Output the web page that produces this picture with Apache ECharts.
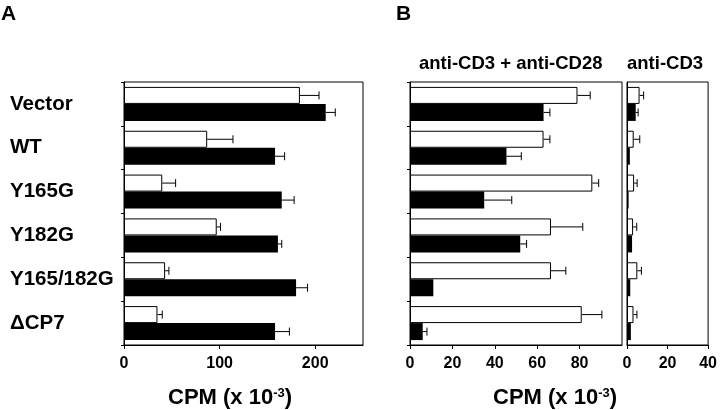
<!DOCTYPE html>
<html>
<head>
<meta charset="utf-8">
<script src="https://cdn.jsdelivr.net/npm/echarts@6/dist/echarts.min.js"></script>
<style>html,body{margin:0;padding:0;background:#fff}#c{width:720px;height:410px}</style>
</head>
<body>
<div id="c"></div>
<script>
const categories = ['Vector', 'WT', 'Y165G', 'Y182G', 'Y165/182G', 'ΔCP7'];
// Panel A
const aOpen = [184, 87, 40, 97, 43, 35];
const aOpenErr = [20, 27, 14, 4, 4, 5];
const aFilled = [211, 158, 165, 161, 180, 158];
const aFilledErr = [10, 10, 13, 4, 12, 15];
// Panel B, anti-CD3 + anti-CD28
const b1Open = [79, 63, 86, 66.5, 66.5, 81];
const b1OpenErr = [6, 3, 3, 15, 7, 9.5];
const b1Filled = [63, 45.5, 35, 52, 11, 6];
const b1FilledErr = [3, 7, 13, 3, 0, 2];
// Panel B, anti-CD3
const b2Open = [6.2, 3.3, 3.5, 3, 5.1, 3.2];
const b2OpenErr = [2, 3, 1.5, 1.8, 2, 1.7];
const b2Filled = [4.3, 1.4, 0.8, 2.5, 1.6, 1.9];
const b2FilledErr = [1.2, 0, 0, 0, 0, 0];
const xTicksA = {min: 0, max: 250, interval: 100};
const xTicksB1 = {min: 0, max: 100, interval: 20};
const xTicksB2 = {min: 0, max: 40, interval: 20};

const FONT = "'Liberation Sans', Arial, Helvetica, sans-serif";
const BAR_W = 17;

function errSeries(vals, errs, gi, pos) {
  return {
    type: 'custom', xAxisIndex: gi, yAxisIndex: gi, silent: true, z: 5,
    data: vals.map((v, i) => [v, errs[i], i]),
    encode: {x: 0, y: 2},
    renderItem: function (params, api) {
      const v = api.value(0), e = api.value(1), c = api.value(2);
      if (!e) return null;
      const p0 = api.coord([v, c]);
      const p1 = api.coord([v + e, c]);
      const y = p0[1] + pos * BAR_W / 2;
      const h = 4;
      return {
        type: 'group',
        children: [
          {type: 'line', shape: {x1: p0[0], y1: y, x2: p1[0], y2: y}, style: {stroke: '#000', lineWidth: 1}},
          {type: 'line', shape: {x1: p1[0], y1: y - h, x2: p1[0], y2: y + h}, style: {stroke: '#000', lineWidth: 1}}
        ]
      };
    }
  };
}
function barSeries(vals, gi, filled) {
  return {
    type: 'bar', xAxisIndex: gi, yAxisIndex: gi, data: vals, barWidth: BAR_W, barGap: '0%',
    itemStyle: filled ? {color: '#000', borderColor: '#000', borderWidth: 0} : {color: '#fff', borderColor: '#000', borderWidth: 1},
    silent: true, animation: false
  };
}
function xAx(gi, t, showMax) {
  return {
    type: 'value', gridIndex: gi, min: t.min, max: t.max, interval: t.interval,
    axisLine: {show: true, lineStyle: {color: '#000', width: 1}},
    axisTick: {show: true, length: 4, lineStyle: {color: '#000'}},
    splitLine: {show: false},
    axisLabel: {show: true, showMaxLabel: showMax, margin: 11, color: '#000', fontFamily: FONT, fontWeight: 'bold', fontSize: 16}
  };
}
function yAx(gi, showLabel, showTick) {
  return {
    type: 'category', gridIndex: gi, data: categories, inverse: true,
    axisLine: {show: true, lineStyle: {color: '#000', width: 1}},
    axisTick: {show: showTick, length: 3, lineStyle: {color: '#000'}},
    axisLabel: {show: showLabel, align: 'left', margin: 114, color: '#000', fontFamily: FONT, fontWeight: 'bold', fontSize: 20.5}
  };
}
const cpmRich = {
  a: {fontFamily: FONT, fontWeight: 'bold', fontSize: 22, color: '#000'},
  sup: {fontFamily: FONT, fontWeight: 'bold', fontSize: 13, color: '#000', verticalAlign: 'top', padding: [0, 0, 9, 0]}
};
const tStyle = (size) => ({fontFamily: FONT, fontWeight: 'bold', fontSize: size, color: '#000'});
const chart = echarts.init(document.getElementById('c'), null, {renderer: 'canvas'});
chart.setOption({
  animation: false,
  backgroundColor: '#fff',
  title: [
    {text: 'A', left: 1, top: 4, padding: 0, textStyle: tStyle(21)},
    {text: 'B', left: 396, top: 4, padding: 0, textStyle: tStyle(21)},
    {text: 'anti-CD3 + anti-CD28', left: 419, top: 54, padding: 0, textStyle: tStyle(18.5)},
    {text: 'anti-CD3', left: 627, top: 54, padding: 0, textStyle: tStyle(18.5)},
    {text: '{a|CPM (x 10}{sup|-3}{a|)}', left: 168, top: 387, padding: 0, textStyle: {rich: cpmRich}},
    {text: '{a|CPM (x 10}{sup|-3}{a|)}', left: 493, top: 387, padding: 0, textStyle: {rich: cpmRich}}
  ],
  grid: [
    {left: 124, right: 357, top: 82, bottom: 65, show: true, borderColor: '#000', borderWidth: 1, backgroundColor: 'transparent'},
    {left: 410, right: 98, top: 82, bottom: 65, show: true, borderColor: '#000', borderWidth: 1, backgroundColor: 'transparent'},
    {left: 627, right: 9, top: 82, bottom: 65, show: true, borderColor: '#000', borderWidth: 1, backgroundColor: 'transparent'}
  ],
  xAxis: [xAx(0, xTicksA, false), xAx(1, xTicksB1, false), xAx(2, xTicksB2, true)],
  yAxis: [yAx(0, true, true), yAx(1, false, true), yAx(2, false, false)],
  series: [
    barSeries(aOpen, 0, false), barSeries(aFilled, 0, true),
    barSeries(b1Open, 1, false), barSeries(b1Filled, 1, true),
    barSeries(b2Open, 2, false), barSeries(b2Filled, 2, true),
    errSeries(aOpen, aOpenErr, 0, -1), errSeries(aFilled, aFilledErr, 0, 1),
    errSeries(b1Open, b1OpenErr, 1, -1), errSeries(b1Filled, b1FilledErr, 1, 1),
    errSeries(b2Open, b2OpenErr, 2, -1), errSeries(b2Filled, b2FilledErr, 2, 1)
  ]
});
</script>
</body>
</html>
